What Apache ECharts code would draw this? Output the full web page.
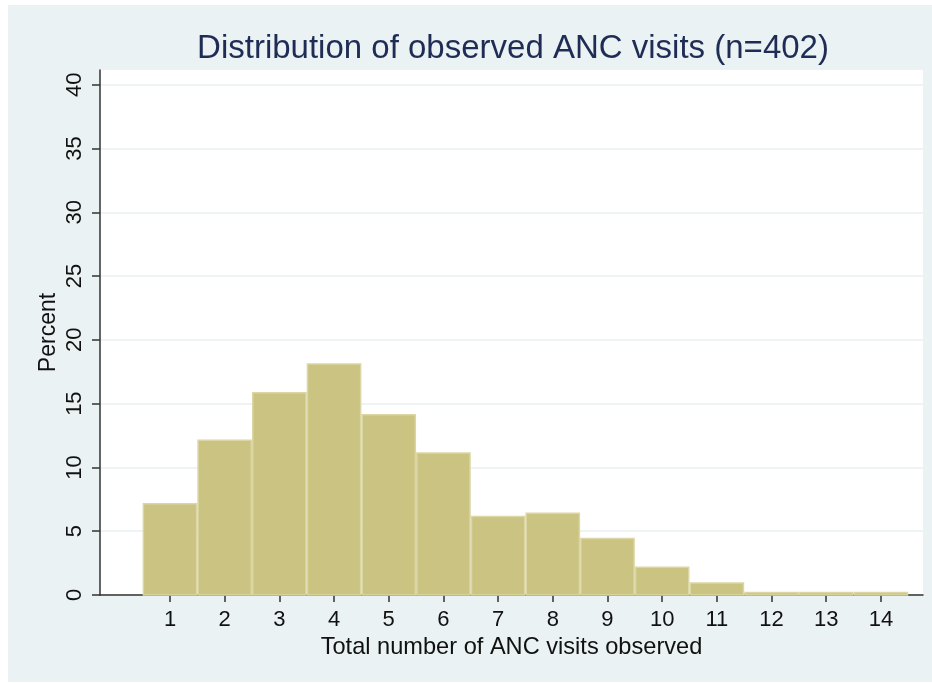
<!DOCTYPE html>
<html>
<head>
<meta charset="utf-8">
<script src="https://cdn.jsdelivr.net/npm/echarts@6/dist/echarts.min.js"></script>
<style>
html,body{margin:0;padding:0;background:#fff;}
#c{width:932px;height:683px;}
</style>
</head>
<body>
<div id="c"></div>
<script>
// Data
const visits = [1, 2, 3, 4, 5, 6, 7, 8, 9, 10, 11, 12, 13, 14];
const percent = [7.21, 12.19, 15.92, 18.16, 14.18, 11.19, 6.22, 6.47, 4.48, 2.24, 1.00, 0.25, 0.25, 0.25];
const yTicks = [0, 5, 10, 15, 20, 25, 30, 35, 40];
const xTicks = [1, 2, 3, 4, 5, 6, 7, 8, 9, 10, 11, 12, 13, 14];

const chart = echarts.init(document.getElementById('c'));
const font = 'Liberation Sans, Arial, Helvetica, sans-serif';

chart.setOption({
  backgroundColor: '#ffffff',
  animation: false,
  graphic: [{
    type: 'rect',
    z: -10,
    shape: {x: 8, y: 5, width: 924, height: 677},
    style: {fill: '#eaf2f3'},
    silent: true
  }],
  title: {
    text: 'Distribution of observed ANC visits (n=402)',
    left: 508,
    top: 27,
    textAlign: 'center',
    textStyle: {fontFamily: font, fontSize: 33, fontWeight: 'normal', color: '#1f2c55'}
  },
  grid: {
    left: 100, right: 9, top: 70, bottom: 88,
    show: true, backgroundColor: '#ffffff', borderWidth: 0
  },
  xAxis: {
    type: 'value',
    min: -0.28, max: 14.77,
    name: 'Total number of ANC visits observed',
    nameLocation: 'middle',
    nameGap: 40,
    nameMoveOverlap: false,
    nameTextStyle: {fontFamily: font, fontSize: 23.6, color: '#111'},
    axisLine: {show: true, onZero: false, lineStyle: {color: '#333', width: 1.5}},
    axisTick: {show: true, length: 7, customValues: xTicks, lineStyle: {color: '#333', width: 1.5}},
    axisLabel: {customValues: xTicks, margin: 14, fontFamily: font, fontSize: 22, color: '#111'},
    splitLine: {show: false}
  },
  yAxis: {
    type: 'value',
    min: 0, max: 41.15, interval: 5,
    name: 'Percent',
    nameLocation: 'middle',
    nameGap: 40,
    nameMoveOverlap: false,
    nameRotate: 90,
    nameTextStyle: {fontFamily: font, fontSize: 23, color: '#111'},
    axisLine: {show: true, onZero: false, lineStyle: {color: '#333', width: 1.5}},
    axisTick: {show: true, length: 8, customValues: yTicks, lineStyle: {color: '#333', width: 1.5}},
    axisLabel: {customValues: yTicks, rotate: 90, margin: 14, fontFamily: font, fontSize: 22, color: '#111'},
    splitLine: {show: true, lineStyle: {color: '#e8f0f2', width: 1.5}}
  },
  series: [{
    type: 'custom',
    data: visits.map((v, i) => [v, percent[i]]),
    encode: {x: 0, y: 1},
    renderItem: function (params, api) {
      const x = api.value(0), y = api.value(1);
      const tl = api.coord([x - 0.5, y]);
      const br = api.coord([x + 0.5, 0]);
      return {
        type: 'rect',
        shape: {x: tl[0] + 0.75, y: tl[1] + 0.75, width: br[0] - tl[0] - 1.5, height: br[1] - tl[1] - 0.75},
        style: {fill: '#cbc382', stroke: '#dbd6a3', lineWidth: 1.5}
      };
    }
  }]
});
</script>
</body>
</html>
